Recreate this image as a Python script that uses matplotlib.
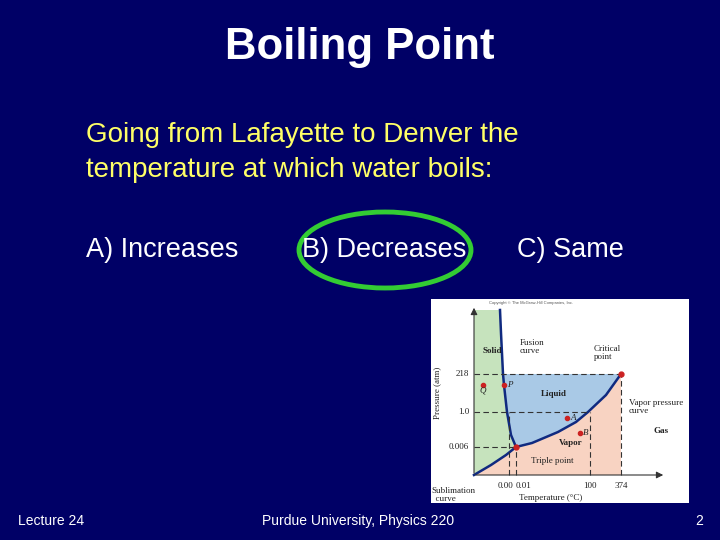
import matplotlib
matplotlib.use("Agg")
import matplotlib.pyplot as plt
from matplotlib.patches import Ellipse, Polygon
import numpy as np

plt.rcParams['font.family'] = ['Liberation Sans', 'DejaVu Sans']
BG = '#000066'

title = "Boiling Point"
question = ["Going from Lafayette to Denver the", "temperature at which water boils:"]
options = ["A) Increases", "B) Decreases", "C) Same"]
option_x = [86, 302, 517]
footer = ["Lecture 24", "Purdue University, Physics 220", "2"]

# phase diagram schematic (inset units)
fusion_x = [85, 80, 76, 73, 72, 70, 69]
fusion_y = [56, 68, 91, 118, 129, 170, 193]
subl_x = [43, 60, 75, 85]
subl_y = [28, 38, 48, 56]
vapor_x = [85, 101, 127, 145, 157, 175, 190]
vapor_y = [56, 60, 71, 81, 91, 108, 129]
pts_name = ["Q", "P", "A", "B"]
pts_x = [52, 73, 136, 149]
pts_y = [118, 118, 85, 70]

fig = plt.figure(figsize=(7.2, 5.4), dpi=100)
fig.patch.set_facecolor(BG)
W, H = 720, 540
def fx(x): return x / W
def fy(y): return 1 - y / H

fig.text(fx(360), fy(47), title, color='white', fontsize=31.5, fontweight='bold', ha='center', va='center')
for i, line in enumerate(question):
    fig.text(fx(86), fy(135 + 35 * i), line, color='#ffff66', fontsize=20, ha='left', va='center')
for x, o in zip(option_x, options):
    fig.text(fx(x), fy(250), o, color='white', fontsize=19.5, ha='left', va='center')
fig.text(fx(18), fy(521), footer[0], color='white', fontsize=10, ha='left', va='center')
fig.text(fx(358), fy(521), footer[1], color='white', fontsize=10, ha='center', va='center')
fig.text(fx(703), fy(521), footer[2], color='white', fontsize=10, ha='right', va='center')

over = fig.add_axes([0, 0, 1, 1]); over.set_xlim(0, W); over.set_ylim(H, 0); over.axis('off')
over.add_patch(Ellipse((385, 250), 172, 76, fill=False, ec='#33cc33', lw=3.5))

ax = fig.add_axes([431 / W, fy(503), 258 / W, 204 / H])
ax.set_xlim(0, 258); ax.set_ylim(0, 204)
ax.set_facecolor('white')
ax.set_xticks([]); ax.set_yticks([])
for s in ax.spines.values(): s.set_visible(False)

fx_r = fusion_x[::-1]; fy_r = fusion_y[::-1]
solid = list(zip([43] + fx_r, [193] + fy_r)) + list(zip(subl_x[::-1], subl_y[::-1]))
ax.add_patch(Polygon(solid, closed=True, fc='#c6e3bd', ec='none'))
liq = list(zip(fusion_x[:5], fusion_y[:5])) + list(zip(vapor_x[::-1], vapor_y[::-1]))
ax.add_patch(Polygon(liq, closed=True, fc='#a9c9e6', ec='none'))
gas = list(zip(subl_x, subl_y)) + list(zip(vapor_x[1:], vapor_y[1:])) + [(190, 28)]
ax.add_patch(Polygon(gas, closed=True, fc='#f8d3c2', ec='none'))

ax.plot(fusion_x, fusion_y, color='#102a80', lw=1.8)
ax.plot(subl_x, subl_y, color='#102a80', lw=1.8)
ax.plot(vapor_x, vapor_y, color='#102a80', lw=1.8)
dash = dict(color='#333333', lw=0.8, ls=(0, (5, 3)))
ax.plot([43, 190], [129, 129], **dash)
ax.plot([43, 157], [91, 91], **dash)
ax.plot([43, 85], [56, 56], **dash)
ax.plot([78, 78], [28, 91], **dash)
ax.plot([85, 85], [28, 56], **dash)
ax.plot([159, 159], [28, 91], **dash)
ax.plot([190, 190], [28, 129], **dash)
ax.annotate('', xy=(43, 198), xytext=(43, 27), arrowprops=dict(arrowstyle='-|>', color='#333333', lw=0.8))
ax.annotate('', xy=(235, 28), xytext=(42, 28), arrowprops=dict(arrowstyle='-|>', color='#333333', lw=0.8))
ax.plot([85, 190], [56, 129], 'o', color='#cc2222', ms=3.5)
ax.plot(pts_x, pts_y, 'o', color='#cc2222', ms=3)

sf = dict(family=['Liberation Serif', 'DejaVu Serif'], fontsize=6.5, color='#222222')
for n, x, y in zip(pts_name, pts_x, pts_y):
    if n == 'Q':
        ax.text(x, y - 8, n, ha='center', style='italic', **sf)
    else:
        ax.text(x + 3, y, n, ha='left', va='center', style='italic', **sf)
ax.text(38, 129, '218', va='center', ha='right', **sf)
ax.text(38, 91, '1.0', va='center', ha='right', **sf)
ax.text(38, 56, '0.006', va='center', ha='right', **sf)
ax.text(6, 110, 'Pressure (atm)', rotation=90, va='center', ha='center', **sf)
for x, t in zip([75, 92, 159, 190], ['0.00', '0.01', '100', '374']):
    ax.text(x, 17, t, ha='center', va='center', **sf)
ax.text(120, 5, 'Temperature (°C)', ha='center', va='center', **sf)
ax.text(52, 150, 'Solid', fontweight='bold', **sf)
ax.text(110, 107, 'Liquid', fontweight='bold', **sf)
ax.text(128, 58, 'Vapor', fontweight='bold', **sf)
ax.text(222, 70, 'Gas', fontweight='bold', **sf)
ax.text(89, 148, 'Fusion\ncurve', va='bottom', linespacing=1.0, **sf)
ax.text(163, 142, 'Critical\npoint', va='bottom', linespacing=1.0, **sf)
ax.text(198, 88, 'Vapor pressure\ncurve', va='bottom', linespacing=1.0, **sf)
ax.text(100, 42, 'Triple point', va='center', **sf)
ax.text(0, 8, 'Sublimation\n  curve', va='center', linespacing=1.0, **sf)
ax.text(100, 200, 'Copyright © The McGraw-Hill Companies, Inc.', fontsize=3, color='#555555', ha='center', va='center')

fig.savefig('out.png', dpi=100, facecolor=BG)
